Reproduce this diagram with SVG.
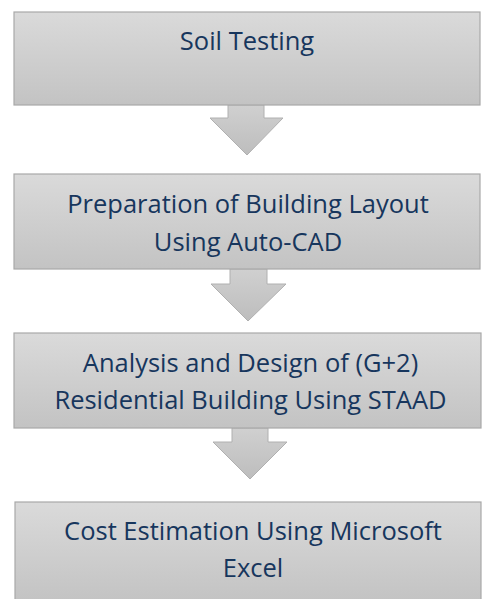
<svg xmlns="http://www.w3.org/2000/svg" width="483" height="599" viewBox="0 0 483 599">
  <defs>
    <linearGradient id="boxFill" x1="0" y1="0" x2="0" y2="1">
      <stop offset="0" stop-color="#dadada"/>
      <stop offset="1" stop-color="#c3c3c3"/>
    </linearGradient>
    <linearGradient id="arrowFill" x1="0" y1="0" x2="0" y2="1">
      <stop offset="0" stop-color="#d0d0d0"/>
      <stop offset="1" stop-color="#bdbdbd"/>
    </linearGradient>
  </defs>
  <style>
    .box { fill: url(#boxFill); stroke: #a9a9a9; stroke-width: 1.2; }
    .arrow { fill: url(#arrowFill); stroke: #b0b0b0; stroke-width: 1; }
    .label { font-family: "Open Sans", "Noto Sans", sans-serif; font-size: 25.5px; fill: #17365d; text-anchor: middle; }
  </style>
  <rect width="483" height="599" fill="#ffffff"/>

  <g id="connectors">
    <path class="arrow" d="M228,105 L264,105 L264,118 L283,118 L247,155 L210,118 L228,118 Z"/>
    <path class="arrow" d="M230,269 L267,269 L267,284 L286,284 L248,321 L211,284 L230,284 Z"/>
    <path class="arrow" d="M232,428 L268,428 L268,442 L287,442 L250,479 L213,442 L232,442 Z"/>
  </g>

  <g id="soil-testing">
    <rect class="box" x="14" y="12" width="466" height="93"/>
    <text class="label" x="247" y="50">Soil Testing</text>
  </g>

  <g id="building-layout">
    <rect class="box" x="14" y="174" width="466" height="95"/>
    <text class="label" x="248" y="213">Preparation of Building Layout</text>
    <text class="label" x="248" y="251">Using Auto-CAD</text>
  </g>

  <g id="analysis-design">
    <rect class="box" x="14" y="333" width="467" height="95"/>
    <text class="label" x="250.5" y="372">Analysis and Design of (G+2)</text>
    <text class="label" x="250.5" y="409">Residential Building Using STAAD</text>
  </g>

  <g id="cost-estimation">
    <rect class="box" x="15" y="502" width="466" height="100"/>
    <text class="label" x="253" y="540">Cost Estimation Using Microsoft</text>
    <text class="label" x="253" y="577">Excel</text>
  </g>
</svg>
